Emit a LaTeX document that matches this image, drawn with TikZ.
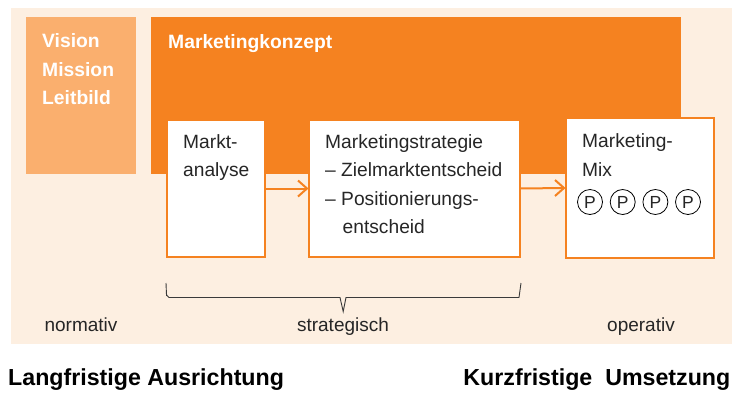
\documentclass[tikz,border=0pt]{standalone}
\usepackage{fontspec}
\setmainfont{Liberation Sans}
\usetikzlibrary{arrows.meta}
\definecolor{bgcream}{HTML}{FDEFE1}
\definecolor{orng}{HTML}{F58220}
\definecolor{lorng}{HTML}{FAAF6E}
\definecolor{txtgray}{HTML}{262626}
\definecolor{bracegray}{HTML}{3A3A3A}
\begin{document}
\begin{tikzpicture}[x=1pt,y=-1pt,
  area/.style={draw=none,inner sep=0pt,outer sep=0pt,anchor=north west},
  wbox/.style={draw=orng,line width=2pt,fill=white,inner sep=0pt,outer sep=0pt,anchor=north west},
  btxt/.style={font=\fontsize{19.3}{28}\selectfont\bfseries,text=white,anchor=base west,inner sep=0pt},
  ntxt/.style={font=\fontsize{19.2}{28}\selectfont,text=txtgray,anchor=base west,inner sep=0pt},
  lbl/.style={font=\fontsize{19}{28}\selectfont,text=txtgray,anchor=base,inner sep=0pt},
  ttl/.style={font=\fontsize{23.2}{26}\selectfont\bfseries,text=black,inner sep=0pt},
  pcirc/.style={circle,draw=black,line width=0.8pt,minimum size=25pt,inner sep=0pt,font=\fontsize{17.5}{20}\selectfont,text=txtgray},
  arr/.style={draw=orng,line width=2pt,line cap=butt,line join=miter},
  bracestyle/.style={draw=bracegray,line width=0.9pt,line join=miter}]
\useasboundingbox (0,0) rectangle (744,408);
% areas
\node[area,fill=bgcream,minimum width=721,minimum height=336] (bg) at (11,8) {};
\node[area,fill=lorng,minimum width=110,minimum height=157] (vision) at (26,17) {};
\node[area,fill=orng,minimum width=530,minimum height=157] (konzept) at (151,17) {};
% boxes
\node[wbox,minimum width=98,minimum height=137] (markt) at (167,120) {};
\node[wbox,minimum width=211,minimum height=137] (strat) at (309,120) {};
\node[wbox,minimum width=148,minimum height=140] (mix) at (566,118) {};
% arrows (shaft + open chevron tip)
\draw[arr] (markt.east) -- ([xshift=-2pt]strat.west);
\draw[arr] ([xshift=-11pt,yshift=8pt]strat.west) -- ([xshift=-2pt]strat.west) -- ([xshift=-11pt,yshift=-8pt]strat.west);
\draw[arr] (strat.east) -- ([xshift=-2pt]mix.west);
\draw[arr] ([xshift=-11pt,yshift=8pt]mix.west) -- ([xshift=-2pt]mix.west) -- ([xshift=-11pt,yshift=-8pt]mix.west);
% white texts
\node[btxt] (t1) at (42,47.5) {Vision};
\node[btxt] (t2) at (42,76) {Mission};
\node[btxt] (t3) at (42,104) {Leitbild};
\node[btxt] (t4) at (168,48) {Marketingkonzept};
% box texts
\node[ntxt] (m1) at (183,148) {Markt-};
\node[ntxt] (m2) at (183,176.5) {analyse};
\node[ntxt] (s1) at (325,148) {Marketingstrategie};
\node[ntxt] (s2) at (325,176.5) {– Zielmarktentscheid};
\node[ntxt] (s3) at (325,205) {– Positionierungs-};
\node[ntxt] (s4) at (342.5,233) {entscheid};
\node[ntxt] (x1) at (582,147.5) {Marketing-};
\node[ntxt] (x2) at (582,176) {Mix};
\node[pcirc] (p1) at (590,202) {P};
\node[pcirc] (p2) at (622.7,202) {P};
\node[pcirc] (p3) at (655.4,202) {P};
\node[pcirc] (p4) at (688,202) {P};
% brace
\draw[bracestyle] (166,283) -- (166.5,295) to[out=90,in=180] (169,297.5) -- (340,297.5) -- (343.2,311.5) -- (346,297.5) -- (519,297.5) -- (521,283);
% labels
\node[lbl] (n1) at (81,331.5) {normativ};
\node[lbl] (n2) at (343,331.5) {strategisch};
\node[lbl] (n3) at (641,331.5) {operativ};
% titles
\node[ttl,anchor=base west] (l1) at (8,385.5) {Langfristige Ausrichtung};
\node[ttl,anchor=base east] (l2) at (730.5,385.5) {Kurzfristige\ \ Umsetzung};
\end{tikzpicture}
\end{document}
